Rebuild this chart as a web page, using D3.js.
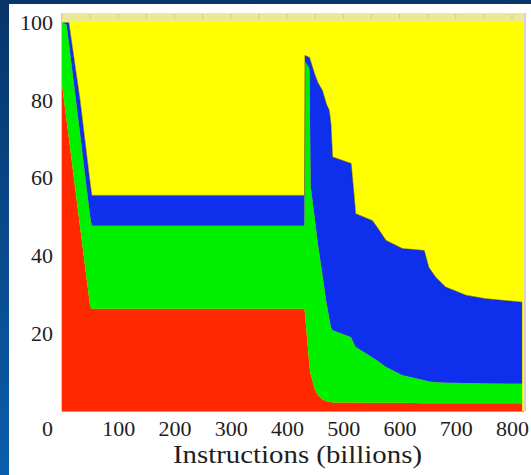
<!DOCTYPE html>
<html>
<head>
<meta charset="utf-8">
<script src="https://cdn.jsdelivr.net/npm/d3@7"></script>
<style>
  html, body { margin: 0; padding: 0; background: #0a4a8c; }
  svg { display: block; }
</style>
</head>
<body>
<div id="chart"></div>
<script>
// instructions executed (billions) and the share (%) of each category at that point
const instructions = [0, 8, 12, 32, 50, 53, 431, 432, 440, 442, 449, 455, 463, 470, 475, 478, 481,
  514, 520, 522, 552, 564, 576, 605, 644, 652, 664, 682, 718, 753, 818];
const red =    [84, 75, 70.5, 47.5, 27, 26.3, 26.3, 25, 11.5, 9.5, 5.8, 4, 3, 2.5, 2.3, 2.3, 2.2,
  2.2, 2.2, 2.2, 2.1, 2.1, 2.1, 2.1, 2, 2, 2, 2, 2, 2, 2];
const green =  [16, 24.5, 24.5, 24, 23, 21.4, 21.4, 65, 76.5, 48.5, 44.2, 39, 32, 25.5, 21.7, 19.3, 18.6,
  16.8, 14.8, 14.3, 11.7, 10.5, 9.2, 7.1, 5.9, 5.6, 5.4, 5.3, 5.2, 5.1, 5];
const blue =   [0, 0.5, 5, 8.5, 8.5, 7.8, 7.8, 1.5, 3, 32, 36.8, 41.5, 47.5, 51, 53.4, 52.4, 44.6,
  44.7, 37.2, 34.3, 35.2, 33.9, 32.6, 32.6, 33.4, 29.4, 27.1, 24.6, 22.6, 21.8, 21];
const yellow = [0, 0, 0, 20, 41.5, 44.5, 44.5, 8.5, 9, 10, 13.2, 15.5, 17.5, 21, 22.6, 26, 34.6,
  36.3, 45.8, 49.2, 51, 53.5, 56.1, 58.2, 58.7, 63, 65.5, 68.1, 70.2, 71.1, 72];

const xTicks = [100, 200, 300, 400, 500, 600, 700, 800];
const yTicks = [20, 40, 60, 80, 100];

const keys = ['red', 'green', 'blue', 'yellow'];
const fills = { red: '#ff2800', green: '#00f000', blue: '#0e30ec', yellow: '#ffff00' };

const width = 531;
const height = 475;
const font = '"Liberation Serif", "Times New Roman", serif';

const svg = d3.select('#chart')
  .append('svg')
  .attr('width', width)
  .attr('height', height);

// slide background
const grad = svg.append('defs').append('linearGradient')
  .attr('id', 'bg')
  .attr('x1', 0).attr('y1', 0).attr('x2', 0).attr('y2', 1);
grad.append('stop').attr('offset', '0%').attr('stop-color', '#07356a');
grad.append('stop').attr('offset', '100%').attr('stop-color', '#0b5dab');

svg.append('rect')
  .attr('width', width)
  .attr('height', height)
  .attr('fill', 'url(#bg)');

// white panel holding the chart
svg.append('rect')
  .attr('x', 9)
  .attr('y', 4)
  .attr('width', width - 9)
  .attr('height', height - 4)
  .attr('fill', '#ffffff');

const x = d3.scaleLinear().domain([0, 800]).range([62, 512]);
const y = d3.scaleLinear().domain([0, 100]).range([411, 22.5]);

const plotLeft = x(0);
const plotRight = 524;
const plotTop = 13;
const plotBottom = y(0);

// plot area
svg.append('rect')
  .attr('x', plotLeft)
  .attr('y', plotTop)
  .attr('width', plotRight - plotLeft)
  .attr('height', plotBottom - plotTop)
  .attr('fill', fills.yellow);

svg.append('rect')
  .attr('x', plotLeft)
  .attr('y', plotTop)
  .attr('width', plotRight - plotLeft)
  .attr('height', 8)
  .attr('fill', '#ebe996');

svg.append('g')
  .selectAll('line')
  .data(d3.range(0, 820, 50))
  .enter()
  .append('line')
  .attr('x1', d => x(d))
  .attr('x2', d => x(d))
  .attr('y1', plotTop + 1)
  .attr('y2', plotTop + 6)
  .attr('stroke', '#d2cc8c')
  .attr('stroke-width', 1);

const table = instructions.map((v, i) => ({
  x: v,
  red: red[i],
  green: green[i],
  blue: blue[i],
  yellow: yellow[i]
}));

const series = d3.stack().keys(keys)(table);

const area = d3.area()
  .x(d => x(d.data.x))
  .y0(d => y(d[0]))
  .y1(d => y(d[1]));

svg.append('g')
  .selectAll('path')
  .data(series)
  .enter()
  .append('path')
  .attr('d', area)
  .attr('fill', d => fills[d.key]);

// dark edge along the top of the blue band
const blueTop = series.find(s => s.key === 'blue').filter(d => d.data.x >= 12);
svg.append('path')
  .attr('d', d3.line().x(d => x(d.data.x)).y(d => y(d[1]))(blueTop))
  .attr('fill', 'none')
  .attr('stroke', '#20204a')
  .attr('stroke-width', 1)
  .attr('stroke-opacity', 0.5);

// frame
svg.append('line')
  .attr('x1', plotLeft).attr('x2', plotRight)
  .attr('y1', plotBottom + 0.5).attr('y2', plotBottom + 0.5)
  .attr('stroke', '#a8a0a0').attr('stroke-width', 1.2);
svg.append('line')
  .attr('x1', plotRight + 1).attr('x2', plotRight + 1)
  .attr('y1', plotTop).attr('y2', plotBottom)
  .attr('stroke', '#d8d0d0').attr('stroke-width', 2);
svg.append('line')
  .attr('x1', plotLeft - 0.5).attr('x2', plotLeft - 0.5)
  .attr('y1', plotTop).attr('y2', plotBottom)
  .attr('stroke', '#e8c0c0').attr('stroke-width', 1);

// axes
const xAxis = d3.axisBottom(x)
  .tickValues(xTicks)
  .tickSize(0)
  .tickPadding(9)
  .tickFormat(d3.format('d'));

const yAxis = d3.axisLeft(y)
  .tickValues(yTicks)
  .tickSize(0)
  .tickPadding(3);

svg.append('g')
  .attr('transform', `translate(0, ${plotBottom})`)
  .call(xAxis)
  .call(g => g.select('.domain').remove());

svg.append('g')
  .attr('transform', 'translate(56, 0)')
  .call(yAxis)
  .call(g => g.select('.domain').remove());

svg.selectAll('.tick text')
  .attr('font-family', font)
  .attr('font-size', 22)
  .attr('fill', '#1e1e1e');

svg.append('text')
  .attr('x', 53)
  .attr('y', 436)
  .attr('text-anchor', 'end')
  .attr('font-family', font)
  .attr('font-size', 22)
  .attr('fill', '#1e1e1e')
  .text('0');

svg.append('text')
  .attr('x', 297.5)
  .attr('y', 463)
  .attr('text-anchor', 'middle')
  .attr('font-family', font)
  .attr('font-size', 25)
  .attr('textLength', 249)
  .attr('lengthAdjust', 'spacingAndGlyphs')
  .attr('fill', '#1e1e1e')
  .text('Instructions (billions)');
</script>
</body>
</html>
